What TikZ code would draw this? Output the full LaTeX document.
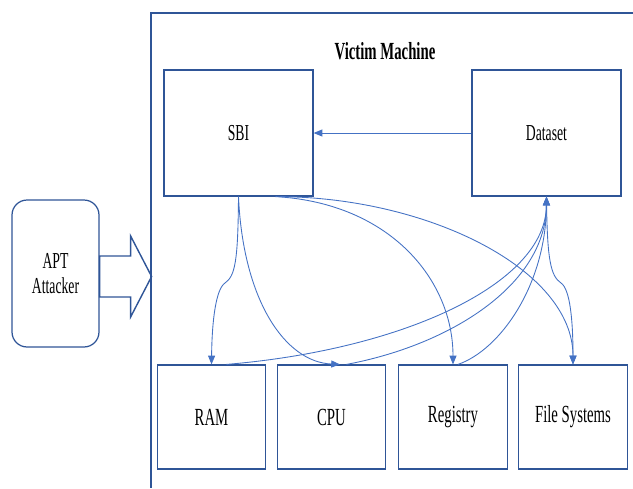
\documentclass[tikz,border=0pt]{standalone}
\usepackage{fontspec}
\setmainfont{Liberation Serif}[FakeStretch=0.6]
\usetikzlibrary{arrows.meta}
\definecolor{frameblue}{RGB}{47,85,151}
\definecolor{linkblue}{RGB}{68,114,196}

\begin{document}
\begin{tikzpicture}
  [x=0.02cm,y=-0.02cm,
   box/.style={draw=frameblue,line width=0.7pt,font=\fontsize{13}{14}\selectfont},
   wide/.style={box,minimum width=2.98cm,minimum height=2.52cm},
   part/.style={box,minimum width=2.17cm,minimum height=2.08cm,font=\fontsize{14}{15}\selectfont},
   link/.style={linkblue,line width=0.5pt,-{Triangle[length=5pt,width=4pt]}}]
  \useasboundingbox (0,0) rectangle (633,488);
  \draw[frameblue,line width=1pt] (633,13) -| (151,488);
  \node[font=\bfseries\fontsize{14}{16}\selectfont] (title) at (385,51) {Victim Machine};

  \node[wide] (sbi)     at (238.5,133) {SBI};
  \node[wide] (dataset) at (546.5,133) {Dataset};
  \node[part] (ram)     at (211.5,417) {RAM};
  \node[part] (cpu)     at (331.5,417) {CPU};
  \node[part] (reg)     at (453,417)   {Registry};
  \node[part] (fs)      at (573,417)   {File Systems};
  \node[box,rounded corners=0.3cm,minimum width=1.74cm,minimum height=2.94cm,align=center]
    (apt) at (55.5,273.5) {APT\\Attacker};

  \draw[frameblue,line width=0.8pt] (apt.east) ++(0,-17.5) -- ++(31,0) -- ++(0,-20)
    -- ++(21,40.5) -- ++(-21,40.5) -- ++(0,-20) -- ++(-31,0) -- cycle;

  \draw[link] (dataset.west) -- (sbi.east);
  \draw[link] (sbi.south) .. controls (238,262) and (235,276) .. (225,283)
    .. controls (216,289) and (212,320) .. (ram.north);
  \draw[link] (sbi.south) .. controls (243,300) and (285,362) .. ([xshift=0.17cm]cpu.north);
  \draw[link] ([xshift=0.74cm]sbi.south) .. controls (390,203) and (453,280) .. (reg.north);
  \draw[link] ([xshift=0.84cm]sbi.south) .. controls (430,198) and (573,270) .. (fs.north);
  \draw[link] (dataset.south) .. controls (547,262) and (551,276) .. (561,283)
    .. controls (570,289) and (573,320) .. (fs.north);

  \foreach \from/\sh/\cx/\cy in {ram/0.3/400/350,cpu/0.3/450/345,reg/0.1/500/350}
    \draw[link] ([xshift=\sh cm]\from.north) .. controls (\cx,\cy) and (546,285) .. (dataset.south);
\end{tikzpicture}
\end{document}
